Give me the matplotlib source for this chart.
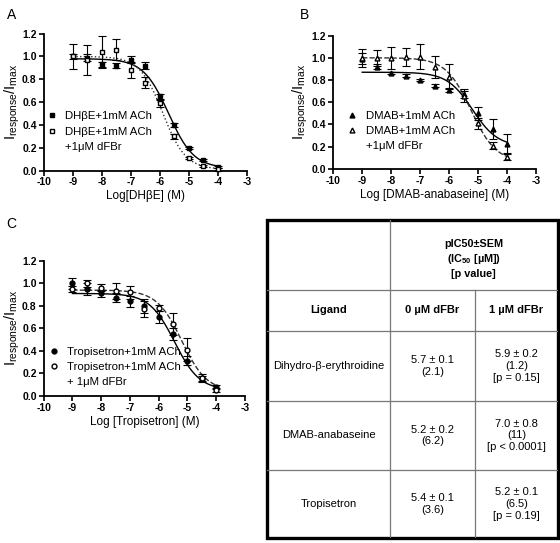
import numpy as np
import matplotlib
matplotlib.use('Agg')
import matplotlib.pyplot as plt
from matplotlib.lines import Line2D

plt.rcParams['font.family'] = ['Liberation Sans', 'DejaVu Sans']
plt.rcParams['mathtext.fontset'] = 'custom'
plt.rcParams['mathtext.rm'] = 'Liberation Sans'
plt.rcParams['mathtext.bf'] = 'Liberation Sans:bold'
plt.rcParams['mathtext.it'] = 'Liberation Sans:italic'
plt.rcParams['axes.unicode_minus'] = False

# concentrations (log M)
log_conc = [-9, -8.5, -8, -7.5, -7, -6.5, -6, -5.5, -5, -4.5, -4]

# panel A - DHbE
a_ctrl = [1.00, 0.99, 0.93, 0.92, 0.97, 0.92, 0.65, 0.40, 0.20, 0.09, 0.03]
a_ctrl_err = [0.11, 0.03, 0.02, 0.02, 0.03, 0.03, 0.02, 0.02, 0.01, 0.01, 0.01]
a_dfbr = [1.00, 0.97, 1.04, 1.06, 0.88, 0.77, 0.59, 0.30, 0.11, 0.04, 0.01]
a_dfbr_err = [0.02, 0.13, 0.14, 0.09, 0.07, 0.05, 0.03, 0.02, 0.01, 0.01, 0.01]
a_fit_ctrl = (0.98, 0.02, -5.7, 1.0)   # top, bottom, logIC50, hill
a_fit_dfbr = (1.00, 0.01, -5.9, 1.1)

# panel B - DMAB-anabaseine
b_ctrl = [0.99, 0.92, 0.86, 0.84, 0.80, 0.75, 0.71, 0.67, 0.50, 0.36, 0.22]
b_ctrl_err = [0.05, 0.02, 0.01, 0.01, 0.01, 0.01, 0.02, 0.03, 0.06, 0.09, 0.09]
b_dfbr = [1.00, 1.00, 1.00, 1.01, 1.01, 0.92, 0.83, 0.66, 0.41, 0.21, 0.11]
b_dfbr_err = [0.08, 0.07, 0.10, 0.08, 0.11, 0.10, 0.11, 0.06, 0.05, 0.03, 0.03]
b_fit_ctrl = (0.87, 0.20, -5.2, 1.0)
b_fit_dfbr = (1.00, 0.06, -5.25, 1.0)

# panel C - Tropisetron
c_ctrl = [1.00, 0.95, 0.91, 0.87, 0.84, 0.80, 0.70, 0.55, 0.31, 0.15, 0.08]
c_ctrl_err = [0.05, 0.05, 0.03, 0.04, 0.05, 0.06, 0.05, 0.05, 0.04, 0.03, 0.02]
c_dfbr = [0.95, 1.00, 0.96, 0.93, 0.92, 0.77, 0.78, 0.64, 0.41, 0.16, 0.05]
c_dfbr_err = [0.03, 0.03, 0.03, 0.07, 0.06, 0.07, 0.03, 0.10, 0.10, 0.03, 0.02]
c_fit_ctrl = (0.91, 0.05, -5.45, 1.0)
c_fit_dfbr = (0.94, 0.04, -5.2, 1.0)

# table
ligands = ['Dihydro-β-erythroidine', 'DMAB-anabaseine', 'Tropisetron']
ctrl_pic50 = ['5.7 ± 0.1', '5.2 ± 0.2', '5.4 ± 0.1']
ctrl_ic50 = ['(2.1)', '(6.2)', '(3.6)']
dfbr_pic50 = ['5.9 ± 0.2', '7.0 ± 0.8', '5.2 ± 0.1']
dfbr_ic50 = ['(1.2)', '(11)', '(6.5)']
p_values = ['[p = 0.15]', '[p < 0.0001]', '[p = 0.19]']


def hill(x, top, bottom, logic50, n):
    return bottom + (top - bottom) / (1 + 10 ** ((x - logic50) * n))


def panel(ax, ctrl, ctrl_err, dfbr, dfbr_err, fit_c, fit_d, marker, ms,
          labels, xlabel, dfbr_ls, leg_pos, ylab_x):
    xx = np.linspace(-9, -4, 200)
    ax.plot(xx, hill(xx, *fit_c), color='black', lw=1.0)
    ax.plot(xx, hill(xx, *fit_d), color='#333333', lw=1.0, ls=dfbr_ls)
    ax.errorbar(log_conc, ctrl, yerr=ctrl_err, fmt=marker, ms=ms, color='black',
                mfc='black', ecolor='black', elinewidth=0.8, capsize=3,
                capthick=0.8, clip_on=False, zorder=3)
    ax.errorbar(log_conc, dfbr, yerr=dfbr_err, fmt=marker, ms=ms, color='black',
                mfc='white', ecolor='black', elinewidth=0.8, capsize=3,
                capthick=0.8, clip_on=False, zorder=4)
    ax.set_xlim(-10, -3)
    ax.set_ylim(0, 1.2)
    ax.set_xticks(range(-10, -2))
    ax.set_yticks(np.arange(0, 1.21, 0.2))
    ax.set_yticklabels(['%.1f' % v for v in np.arange(0, 1.21, 0.2)])
    for s in ['top', 'right']:
        ax.spines[s].set_visible(False)
    for s in ['left', 'bottom']:
        ax.spines[s].set_linewidth(1.3)
    ax.tick_params(direction='out', length=3.5, width=1.2, labelsize=7.5, pad=1.5)
    for t in ax.get_xticklabels() + ax.get_yticklabels():
        t.set_fontweight('bold')
    ax.set_xlabel(xlabel, fontsize=8.5, labelpad=2)
    ax.set_ylabel(r'$\mathregular{I_{response}/I_{max}}$', fontsize=10.5)
    ax.yaxis.set_label_coords(ylab_x, 0.5)
    handles = [Line2D([], [], ls='none', marker=marker, ms=ms, color='black', mfc='black'),
               Line2D([], [], ls='none', marker=marker, ms=ms, color='black', mfc='white'),
               Line2D([], [], ls='none')]
    ax.legend(handles, labels, loc='upper left',
              bbox_to_anchor=leg_pos, frameon=False, fontsize=8.2,
              handletextpad=0.6, handlelength=1.2, labelspacing=0.45,
              borderaxespad=0, borderpad=0.1)


fig = plt.figure(figsize=(5.6, 5.43), dpi=100)

axA = fig.add_axes([0.078, 0.686, 0.363, 0.252])
panel(axA, a_ctrl, a_ctrl_err, a_dfbr, a_dfbr_err, a_fit_ctrl, a_fit_dfbr, 's', 3.5,
      ['DHβE+1mM ACh', 'DHβE+1mM ACh', '+1μM dFBr'], 'Log[DHβE] (M)', ':',
      (0.0, 0.44), -0.108)

axB = fig.add_axes([0.595, 0.689, 0.3625, 0.2455])
panel(axB, b_ctrl, b_ctrl_err, b_dfbr, b_dfbr_err, b_fit_ctrl, b_fit_dfbr, '^', 3.5,
      ['DMAB+1mM ACh', 'DMAB+1mM ACh', '+1μM dFBr'], 'Log [DMAB-anabaseine] (M)', '--',
      (0.055, 0.445), -0.115)

axC = fig.add_axes([0.078, 0.271, 0.3595, 0.2486])
panel(axC, c_ctrl, c_ctrl_err, c_dfbr, c_dfbr_err, c_fit_ctrl, c_fit_dfbr, 'o', 3.5,
      ['Tropisetron+1mM ACh', 'Tropisetron+1mM ACh', '+ 1μM dFBr'],
      'Log [Tropisetron] (M)', '--', (0.01, 0.37), -0.108)

fig.text(0.012, 0.972, 'A', fontsize=10, va='center')
fig.text(0.536, 0.972, 'B', fontsize=10, va='center')
fig.text(0.012, 0.588, 'C', fontsize=10, va='center')

# table drawn by hand (merged header cell)
tax = fig.add_axes([0.477, 0.009, 0.519, 0.586])
tax.set_xlim(0, 1)
tax.set_ylim(0, 1)
tax.axis('off')
col_x = [0, 0.4227, 0.7148, 1]
row_y = [1, 0.780, 0.651, 0.431, 0.214, 0]
grey = '#777777'
for y in row_y[1:-1]:
    tax.plot([0, 1], [y, y], color=grey, lw=0.9)
tax.plot([col_x[1], col_x[1]], [0, 1], color=grey, lw=0.9)
tax.plot([col_x[2], col_x[2]], [0, row_y[1]], color=grey, lw=0.9)
tax.add_patch(plt.Rectangle((0, 0), 1, 1, fill=False, lw=2.4, ec='black', clip_on=False))

tax.text((col_x[1] + 1) / 2, (row_y[0] + row_y[1]) / 2 - 0.012,
         'pIC50±SEM\n(IC$_{\\mathbf{50}}$ [µM])\n[p value]', ha='center', va='center',
         fontsize=7.8, fontweight='bold', linespacing=1.35)
heads = ['Ligand', '0 µM dFBr', '1 µM dFBr']
for i, h in enumerate(heads):
    tax.text((col_x[i] + col_x[i + 1]) / 2, (row_y[1] + row_y[2]) / 2, h,
             ha='center', va='center', fontsize=8, fontweight='bold')
for r in range(len(ligands)):
    yc = (row_y[r + 2] + row_y[r + 3]) / 2
    tax.text((col_x[0] + col_x[1]) / 2, yc, ligands[r], ha='center', va='center', fontsize=8)
    tax.text((col_x[1] + col_x[2]) / 2, yc, ctrl_pic50[r] + '\n' + ctrl_ic50[r],
             ha='center', va='center', fontsize=8, linespacing=1.2)
    tax.text((col_x[2] + col_x[3]) / 2, yc,
             dfbr_pic50[r] + '\n' + dfbr_ic50[r] + '\n' + p_values[r],
             ha='center', va='center', fontsize=8, linespacing=1.2)

fig.savefig('out.png', dpi=100)
